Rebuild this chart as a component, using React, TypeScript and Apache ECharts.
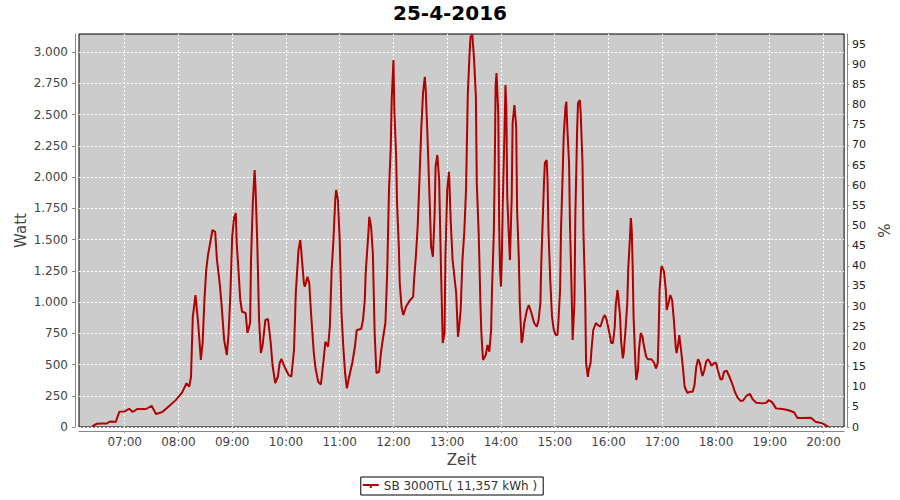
import React, { useEffect, useRef } from "react";
import * as echarts from "echarts";

const titleText = "25-4-2016";
const seriesName = "SB 3000TL( 11,357 kWh )";

const times = [
  "06:24","06:26","06:29","06:35","06:40","06:43","06:46","06:50","06:54","07:00",
  "07:05","07:09","07:14","07:24","07:30","07:35","07:42","07:50","07:57","08:04",
  "08:09","08:12","08:14","08:16","08:19","08:22","08:25","08:27","08:29","08:31",
  "08:33","08:36","08:38","08:41","08:43","08:46","08:48","08:51","08:54","08:56",
  "08:58","09:00","09:02","09:04","09:05","09:07","09:09","09:11","09:15","09:17",
  "09:20","09:21","09:23","09:25","09:26","09:28","09:30","09:32","09:34","09:37",
  "09:40","09:43","09:45","09:48","09:51","09:53","09:55","09:59","10:03","10:06",
  "10:09","10:11","10:14","10:16","10:17","10:20","10:21","10:24","10:26","10:28",
  "10:31","10:33","10:36","10:39","10:42","10:44","10:47","10:49","10:51","10:53",
  "10:55","10:56","10:58","11:00","11:02","11:04","11:06","11:08","11:11","11:14",
  "11:17","11:19","11:24","11:26","11:28","11:29","11:32","11:33","11:35","11:37",
  "11:39","11:41","11:44","11:46","11:48","11:51","11:53","11:55","11:57","11:58",
  "12:00","12:01","12:03","12:04","12:06","12:07","12:09","12:11","12:14","12:18",
  "12:22","12:23","12:25","12:27","12:29","12:31","12:33","12:35","12:36","12:38",
  "12:40","12:42","12:44","12:46","12:47","12:49","12:51","12:53","12:55","12:57",
  "12:58","13:00","13:02","13:04","13:06","13:10","13:12","13:13","13:15","13:17",
  "13:19","13:21","13:23","13:25","13:26","13:28","13:30","13:32","13:33","13:35",
  "13:36","13:37","13:38","13:39","13:40","13:43","13:45","13:47","13:49","13:50",
  "13:52","13:53","13:54","13:55","13:57","13:58","13:59","14:00","14:01","14:02",
  "14:04","14:05","14:06","14:07","14:09","14:10","14:12","14:13","14:15","14:17",
  "14:18","14:20","14:21","14:23","14:24","14:26","14:29","14:31","14:34","14:37",
  "14:40","14:42","14:44","14:45","14:47","14:48","14:49","14:51","14:52","14:53",
  "14:55","14:57","14:59","15:01","15:03","15:04","15:06","15:07","15:09","15:10",
  "15:12","15:13","15:14","15:16","15:17","15:19","15:20","15:22","15:23","15:25",
  "15:26","15:28","15:29","15:31","15:32","15:34","15:35","15:37","15:38","15:40",
  "15:41","15:43","15:46","15:48","15:51","15:54","15:56","15:58","16:01","16:03",
  "16:05","16:07","16:08","16:10","16:11","16:13","16:14","16:16","16:17","16:19",
  "16:21","16:22","16:24","16:25","16:26","16:27","16:28","16:30","16:31","16:33",
  "16:34","16:36","16:38","16:39","16:42","16:44","16:48","16:51","16:53","16:55",
  "16:56","16:57","16:59","17:00","17:02","17:04","17:05","17:07","17:09","17:11",
  "17:13","17:15","17:16","17:18","17:19","17:21","17:23","17:25","17:28","17:31",
  "17:34","17:36","17:38","17:40","17:42","17:44","17:45","17:47","17:49","17:51",
  "17:53","17:55","17:58","18:00","18:02","18:05","18:07","18:09","18:12","18:15",
  "18:18","18:21","18:24","18:27","18:30","18:34","18:38","18:41","18:45","18:52",
  "18:56","18:59","19:03","19:07","19:14","19:20","19:27","19:31","19:36","19:46",
  "19:51","19:59","20:04","20:06"
];

const watts = [
  5,15,26,28,28,42,44,40,122,125,
  146,120,144,144,170,104,120,170,215,275,
  350,322,400,880,1056,832,536,672,1016,1256,
  1376,1496,1576,1562,1336,1152,992,696,576,752,
  1072,1522,1672,1712,1472,1256,1016,922,912,752,
  832,1336,1792,2056,1922,1472,856,592,656,856,
  864,672,496,352,402,512,544,472,416,402,
  616,1072,1416,1496,1416,1152,1122,1202,1152,912,
  600,470,362,340,536,682,642,802,1256,1496,
  1816,1896,1816,1496,912,642,432,309,416,512,
  642,776,784,856,1016,1232,1552,1682,1602,1392,
  752,432,442,592,696,832,1232,1896,2242,2616,
  2936,2536,2162,1792,1442,1152,962,896,962,1010,
  1042,1176,1362,1602,1976,2376,2672,2802,2696,2322,
  1896,1442,1362,1712,2082,2176,1976,1282,672,752,
  1362,1896,2042,1632,1336,1072,722,776,936,1336,
  1552,1896,2672,2992,3122,3140,2936,2642,1952,1576,
  1312,992,776,642,536,576,656,602,776,1096,
  1552,2032,2722,2832,2512,1602,1256,1122,1362,1792,
  2376,2736,2562,1842,1496,1336,1842,2432,2576,2402,
  1736,1336,992,672,696,832,936,976,912,832,
  802,856,992,1312,1736,1952,2112,2136,1976,1576,
  1176,882,776,736,736,832,1096,1576,2056,2322,
  2562,2602,2402,2112,1632,1042,696,992,1682,2376,
  2592,2616,2512,2112,1576,1042,512,402,456,512,
  616,776,832,816,802,872,896,856,752,672,
  672,802,962,1096,1042,882,696,549,592,776,
  992,1256,1522,1672,1576,1282,882,512,376,456,
  616,752,722,672,562,542,542,512,469,512,
  752,1096,1282,1282,1242,1096,936,992,1056,1016,
  856,642,592,672,736,616,482,322,274,282,
  282,336,482,542,512,432,408,456,522,542,
  522,490,512,514,456,382,382,442,450,402,
  349,282,237,210,210,250,264,221,194,189,
  194,216,195,149,144,136,118,72,72,74,
  42,29,8,0
];

const xTickLabels = ["07:00","08:00","09:00","10:00","11:00","12:00","13:00","14:00","15:00","16:00","17:00","18:00","19:00","20:00"];
const leftTicks = [0,250,500,750,1000,1250,1500,1750,2000,2250,2500,2750,3000];
const rightTicks = [0,5,10,15,20,25,30,35,40,45,50,55,60,65,70,75,80,85,90,95];

const xMinLabel = "06:09";
const xMaxLabel = "20:23";
const leftMax = 3144;
const rightMax = 97.5;

const toMin = (s: string) => {
  const [h, m] = s.split(":").map(Number);
  return h * 60 + m;
};
const fmtMin = (v: number) => {
  const h = Math.floor(v / 60);
  const m = Math.round(v - h * 60);
  return `${String(h).padStart(2, "0")}:${String(m).padStart(2, "0")}`;
};
const fmtWatt = (v: number) =>
  v >= 1000 ? `${Math.floor(v / 1000)}.${String(v % 1000).padStart(3, "0")}` : String(v);

const FONT = "DejaVu Sans";
const AXIS_GRAY = "#888888";
const LABEL_COLOR = "#444444";
const LINE_COLOR = "#b00000";

export default function App() {
  const ref = useRef<HTMLDivElement>(null);
  useEffect(() => {
    if (!ref.current) return;
    const chart = echarts.init(ref.current, undefined, { renderer: "svg" });
    const xTicks = xTickLabels.map(toMin);
    const data = times.map((t, i) => [toMin(t), watts[i]]);
    chart.setOption({
      animation: false,
      backgroundColor: "#ffffff",
      textStyle: { fontFamily: FONT },
      title: {
        text: titleText,
        left: "center",
        top: -2,
        textStyle: { fontFamily: FONT, fontSize: 20, fontWeight: "bold", color: "#000" },
      },
      legend: {
        top: 477,
        left: "center",
        orient: "horizontal",
        backgroundColor: "#fff",
        borderColor: "#000",
        borderWidth: 1,
        borderRadius: 0,
        padding: [3, 6, 3, 2],
        itemWidth: 16,
        itemHeight: 6,
        itemGap: 5,
        icon: "path://M0,2L16,2L16,4L0,4Z M7,4L9,4L9,6L7,6Z",
        textStyle: { fontFamily: FONT, fontSize: 12, color: "#333" },
        data: [seriesName],
      },
      grid: {
        left: 79,
        right: 51,
        top: 34,
        bottom: 73,
        show: true,
        backgroundColor: "#cccccc",
        borderColor: "#000000",
        borderWidth: 1,
        containLabel: false,
      },
      xAxis: {
        type: "value",
        min: toMin(xMinLabel),
        max: toMin(xMaxLabel),
        offset: 4,
        name: "Zeit",
        nameLocation: "middle",
        nameGap: 21,
        nameTextStyle: { fontFamily: FONT, fontSize: 15, color: LABEL_COLOR },
        axisLine: { show: true, onZero: false, lineStyle: { color: AXIS_GRAY, width: 1 } },
        axisTick: { show: true, length: 2, lineStyle: { color: AXIS_GRAY }, customValues: xTicks },
        axisLabel: {
          customValues: xTicks,
          formatter: (v: number) => fmtMin(v),
          fontFamily: FONT,
          fontSize: 12,
          color: LABEL_COLOR,
          margin: 5,
        },
        splitLine: { show: true, lineStyle: { color: "#ffffff", type: [2, 2], width: 1 } },
      },
      yAxis: [
        {
          type: "value",
          position: "left",
          min: 0,
          max: leftMax,
          offset: 4,
          name: "Watt",
          nameLocation: "middle",
          nameGap: 47,
          nameMoveOverlap: false,
          nameTextStyle: { fontFamily: FONT, fontSize: 15, color: LABEL_COLOR },
          axisLine: { show: true, lineStyle: { color: AXIS_GRAY, width: 1 } },
          axisTick: { show: true, length: 3, lineStyle: { color: AXIS_GRAY }, customValues: leftTicks },
          axisLabel: {
            customValues: leftTicks,
            formatter: (v: number) => fmtWatt(v),
            fontFamily: FONT,
            fontSize: 12,
            color: LABEL_COLOR,
            margin: 7,
          },
          splitLine: { show: true, lineStyle: { color: "#ffffff", type: [2, 2], width: 1 } },
        },
        {
          type: "value",
          position: "right",
          min: 0,
          max: rightMax,
          offset: 3,
          name: "%",
          nameLocation: "middle",
          nameGap: 20,
          nameTextStyle: { fontFamily: FONT, fontSize: 15, color: LABEL_COLOR },
          axisLine: { show: true, lineStyle: { color: AXIS_GRAY, width: 1 } },
          axisTick: { show: true, length: 2, lineStyle: { color: AXIS_GRAY }, customValues: rightTicks },
          axisLabel: {
            customValues: rightTicks,
            fontFamily: FONT,
            fontSize: 11,
            color: "#222",
            margin: 5,
          },
          splitLine: { show: false },
        },
      ],
      series: [
        {
          name: seriesName,
          type: "line",
          yAxisIndex: 0,
          data,
          symbol: "none",
          showSymbol: false,
          lineStyle: { color: LINE_COLOR, width: 2 },
          itemStyle: { color: LINE_COLOR },
        },
      ],
    });
    return () => chart.dispose();
  }, []);
  return (
    <div
      ref={ref}
      style={{ position: "fixed", left: 0, top: 0, width: 900, height: 500, background: "#fff" }}
    />
  );
}
